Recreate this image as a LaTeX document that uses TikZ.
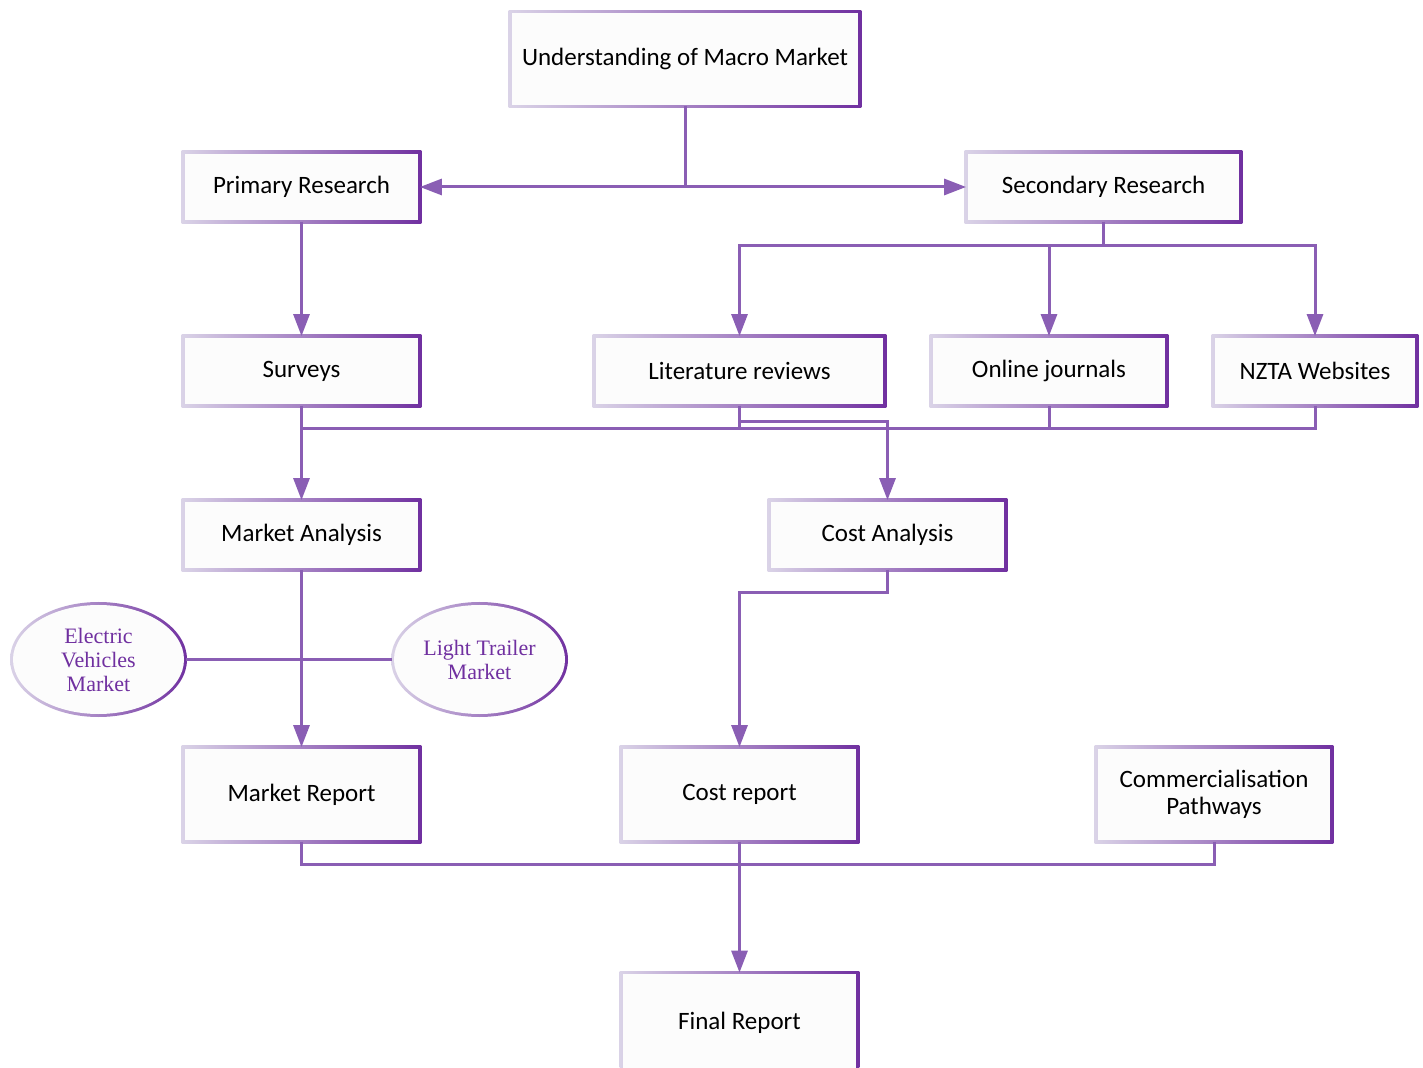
\documentclass[tikz,border=0pt]{standalone}
\usepackage{fontspec}
\setmainfont{Carlito}
\newfontfamily\ovalfont{Liberation Serif}
\usetikzlibrary{calc,backgrounds,arrows.meta,shapes.geometric}

\definecolor{boxlite}{HTML}{DAD3E7}
\definecolor{boxdark}{HTML}{7030A0}
\definecolor{linkpurple}{HTML}{8A5EB4}
\definecolor{boxfill}{HTML}{FCFCFC}
\newcommand{\rimwidth}{0.75pt}

\tikzset{
  stepbox/.style={rectangle, minimum width=118pt, minimum height=34.5pt,
    inner sep=2pt, align=center, font=\fontsize{12.5}{13.5}\selectfont},
  tallbox/.style={stepbox, minimum height=47pt},
  oval/.style={ellipse, minimum width=87pt, minimum height=56pt, inner sep=0pt,
    align=center, text=boxdark, font=\ovalfont\fontsize{11}{12}\selectfont},
  link/.style={draw=linkpurple, line width=1.5pt},
  arrowlink/.style={link, -{Triangle[length=11pt,width=8pt]}},
}

\begin{document}
\begin{tikzpicture}[x=0.5pt,y=-0.5pt]
\useasboundingbox (0,0) rectangle (1423,1068);

%% Top box
\node[tallbox, minimum width=174.5pt] (macro) at (685,59) {Understanding of Macro Market};

%% Research boxes
\node[stepbox] (primary) at (301.5,187) {Primary Research};
\node[stepbox, minimum width=137pt] (secondary) at (1103.5,187) {Secondary Research};

%% Second row: surveys and the three secondary sources
\node[stepbox] (surveys) at (301.5,371) {Surveys};
\node[stepbox, minimum width=145pt] (litrev) at (739.5,371) {Literature reviews};
\node[stepbox, minimum width=117.5pt] (journals) at (1049,371) {Online journals};
\node[stepbox, minimum width=101.5pt] (nzta) at (1315,371) {NZTA Websites};

%% Analysis row
\node[stepbox] (analysis) at (301.5,535) {Market Analysis};
\node[stepbox] (costan) at (887.5,535) {Cost Analysis};

%% Market ovals
\node[oval] (ev) at (98.5,659.5) {Electric\\Vehicles\\Market};
\node[oval] (trailer) at (479.5,659.5) {Light Trailer\\Market};

%% Report row
\node[tallbox] (mreport) at (301.5,794.5) {Market Report};
\node[tallbox] (creport) at (739.5,794.5) {Cost report};
\node[tallbox, minimum width=117.5pt] (commerce) at (1214,794.5) {Commercialisation\\Pathways};

%% Final box (runs off the bottom edge)
\node[tallbox, minimum height=50pt] (final) at (739.5,1023) {Final Report};

%% Shaded rims behind the boxes
\begin{scope}[on background layer]
  \foreach \n in {macro,primary,secondary,surveys,litrev,journals,nzta,
                  analysis,costan,mreport,creport,commerce,final} {
    \shade[left color=boxlite, right color=boxdark]
      ($(\n.south west)+(-\rimwidth,-\rimwidth)$) rectangle ($(\n.north east)+(\rimwidth,\rimwidth)$);
    \fill[boxfill]
      ($(\n.south west)+(\rimwidth,\rimwidth)$) rectangle ($(\n.north east)+(-\rimwidth,-\rimwidth)$);
  }
  \foreach \n in {ev,trailer} {
    \shade[left color=boxlite, right color=boxdark]
      (\n.center) ellipse [x radius=44.25pt, y radius=28.75pt];
    \fill[boxfill] (\n.center) ellipse [x radius=42.75pt, y radius=27.25pt];
  }
\end{scope}

%% Macro market splits to both research boxes
\coordinate (split) at (macro.south |- primary.east);
\draw[link] (macro.south) -- (split);
\draw[arrowlink] (split) -- (primary.east);
\draw[arrowlink] (split) -- (secondary.west);

%% Primary research to surveys
\draw[arrowlink] (primary.south) -- (surveys.north);

%% Secondary research fans out to its sources
\coordinate (secfork) at ($(secondary.south)+(0,-11.75pt)$);
\draw[link] (secondary.south) -- (secfork);
\draw[arrowlink] (secfork) -| (litrev.north);
\draw[arrowlink] (secfork) -| (journals.north);
\draw[arrowlink] (secfork) -| (nzta.north);

%% Gather line under the second row
\coordinate (gather) at ($(surveys.south)+(0,-11.5pt)$);
\draw[arrowlink] (surveys.south) -- (analysis.north);
\draw[link] (gather) -| (nzta.south);
\draw[link] (journals.south) -- (journals.south |- gather);
\draw[link] (litrev.south) -- (litrev.south |- gather);
%% Literature reviews feed the cost analysis
\draw[arrowlink] (litrev.south) -- ++(0,-7.75pt) -| (costan.north);

%% Market analysis to market report, crossed by the ovals
\draw[arrowlink] (analysis.south) -- (mreport.north);
\draw[link] (ev.east) -- (trailer.west);

%% Cost analysis to cost report
\draw[arrowlink] (costan.south) -- ++(0,-11.25pt) -| (creport.north);

%% Reports merge into the final report
\coordinate (merge) at ($(mreport.south)+(0,-11.25pt)$);
\draw[link] (mreport.south) -- (merge) -| (commerce.south);
\draw[arrowlink] (creport.south) -- (final.north);

\end{tikzpicture}
\end{document}
